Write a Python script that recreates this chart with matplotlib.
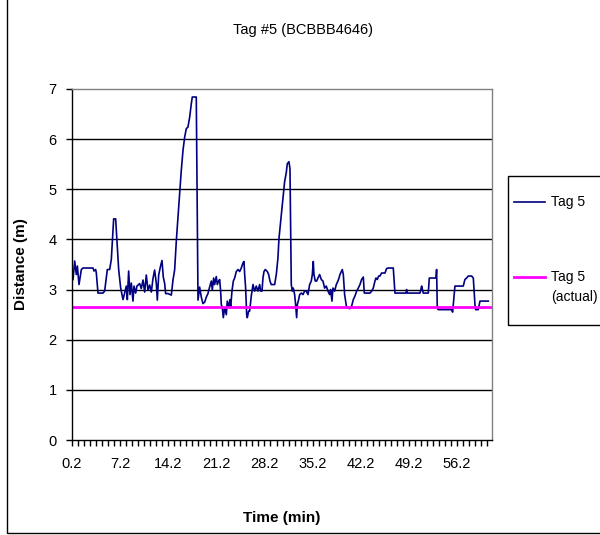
import numpy as np
import matplotlib
matplotlib.use('Agg')
import matplotlib.pyplot as plt
from matplotlib.lines import Line2D
from matplotlib.patches import Rectangle

plt.rcParams['font.family'] = ['Liberation Sans', 'DejaVu Sans']

# measured distance for tag 5 (minutes, metres)
time_min = [
    0.35, 0.59, 0.83, 0.98, 1.22, 1.56, 1.8, 3.25, 3.4, 3.64, 3.74, 3.98, 4.71, 4.95,
    5.34, 5.68, 5.92, 6.26, 6.55, 6.79, 6.99, 7.28, 7.62, 7.86, 8.1, 8.25, 8.44, 8.64,
    8.83, 9.07, 9.22, 9.46, 9.65,
    10.04, 10.28, 10.53, 10.77, 11.01, 11.25, 11.5, 11.74, 11.98, 12.22, 12.47, 12.61,
    12.81, 13.05, 13.29, 13.48, 13.68, 13.82, 14.16, 14.65, 14.89, 15.13, 15.38, 15.62,
    15.86, 16.1, 16.35, 16.59, 16.83, 17.07, 17.32, 17.56, 17.7, 18.28, 18.53, 18.77,
    19.01, 19.25, 19.5, 19.74, 19.98, 20.22,
    20.47, 20.61, 20.81, 20.95, 21.19, 21.34, 21.53, 21.68, 21.82, 21.92, 22.07, 22.21,
    22.41, 22.65, 22.79, 22.99, 23.18, 23.28, 23.47, 23.67, 23.86, 24.1, 24.35, 24.59,
    24.83, 25.07, 25.22, 25.32, 25.46, 25.61, 25.7, 25.9, 26.04, 26.28, 26.53, 26.77,
    27.01, 27.25, 27.5, 27.64, 27.84, 27.98, 28.13, 28.32, 28.61, 28.81, 29.0, 29.19,
    29.68, 29.92, 30.16, 30.31, 30.45,
    30.65, 30.89, 31.13, 31.38, 31.52, 31.76, 31.91, 32.1, 32.25, 32.39, 32.59, 32.73,
    32.88, 32.98, 33.17, 33.32, 33.56, 33.8, 34.04, 34.28, 34.53, 34.77, 35.01, 35.16,
    35.3, 35.4, 35.59, 35.79, 35.98, 36.22, 36.47, 36.71, 36.95, 37.19, 37.44, 37.68,
    37.82, 38.02, 38.16, 38.41, 38.65, 38.89, 39.04, 39.18, 39.38, 39.52, 39.67, 39.86,
    40.01, 40.15,
    40.64, 40.88, 41.12, 41.36, 41.61, 41.85, 42.09, 42.33, 42.58, 42.72, 43.55, 43.79,
    44.03, 44.27, 44.42, 44.61, 44.81, 45.0, 45.24, 45.73, 45.97, 46.21, 46.94, 47.18,
    48.78, 48.88, 48.98, 50.82, 50.96, 51.06, 51.3, 52.03, 52.18, 53.15, 53.24, 53.34,
    53.48, 55.42, 55.57, 55.76, 55.91, 57.12, 57.36, 57.61, 57.85, 58.33, 58.58, 58.82,
    58.92, 59.3, 59.55, 60.76,
]
tag5_m = [
    3.2, 3.57, 3.3, 3.47, 3.1, 3.4, 3.43, 3.43, 3.37, 3.4, 3.33, 2.93, 2.93, 2.97,
    3.4, 3.4, 3.6, 4.41, 4.41, 3.87, 3.4, 3.03, 2.8, 2.93, 3.07, 2.8, 3.37, 2.9,
    3.13, 2.77, 3.07, 2.93, 3.07,
    3.12, 3.02, 3.19, 2.95, 3.29, 2.99, 3.09, 2.95, 3.22, 3.39, 3.12, 2.79,
    3.29, 3.45, 3.58, 3.25, 3.12, 2.92, 2.92, 2.89, 3.19, 3.39, 3.98, 4.45,
    4.91, 5.38, 5.78, 6.04, 6.21, 6.24, 6.44, 6.71, 6.84, 6.84, 2.79, 3.05,
    2.85, 2.72, 2.75, 2.85, 2.92, 3.05,
    3.17, 3.0, 3.23, 3.1, 3.26, 3.1, 3.17, 3.2, 2.97, 2.7, 2.64, 2.44,
    2.64, 2.5, 2.77, 2.64, 2.8, 2.64, 2.97, 3.17, 3.23, 3.36, 3.4, 3.36,
    3.43, 3.53, 3.56, 3.3, 3.03, 2.5, 2.44, 2.57, 2.57, 2.87, 3.1, 2.97,
    3.07, 2.97, 3.1, 2.97, 2.97, 3.23, 3.36, 3.4, 3.36, 3.3, 3.17, 3.1,
    3.1, 3.3, 3.63, 4.02, 4.22,
    4.49, 4.82, 5.15, 5.34, 5.51, 5.55, 5.41, 3.1, 2.97, 3.03, 2.9, 2.7,
    2.44, 2.7, 2.8, 2.9, 2.93, 2.9, 2.97, 2.97, 2.9, 3.1, 3.17, 3.3,
    3.56, 3.3, 3.17, 3.17, 3.23, 3.3, 3.2, 3.17, 3.03, 3.07, 2.97, 2.9,
    3.0, 2.77, 3.03, 2.97, 3.1, 3.17, 3.23, 3.3, 3.36, 3.4, 3.3, 2.9,
    2.77, 2.64,
    2.62, 2.67, 2.8, 2.87, 2.97, 3.03, 3.1, 3.2, 3.25, 2.93, 2.93, 2.97,
    3.03, 3.17, 3.23, 3.2, 3.27, 3.27, 3.33, 3.33, 3.42, 3.43, 3.43, 2.93,
    2.93, 3.0, 2.93, 2.93, 3.0, 3.07, 2.93, 2.93, 3.23, 3.23, 3.4, 2.63,
    2.6, 2.6, 2.55, 2.83, 3.07, 3.07, 3.2, 3.23, 3.27, 3.27, 3.23, 2.7,
    2.6, 2.6, 2.77, 2.77,
]
actual_m = 2.65

x_tick_labels = ['0.2', '7.2', '14.2', '21.2', '28.2', '35.2', '42.2', '49.2', '56.2']
y_ticks = [0, 1, 2, 3, 4, 5, 6, 7]

W, H = 600, 535


def fx(px):
    return px / W


def fy(py):
    return 1 - py / H


fig = plt.figure(figsize=(W / 100, H / 100), dpi=100)

# chart area border
fig.add_artist(Rectangle((fx(7), fy(533)), fx(640) - fx(7), fy(-5) - fy(533),
                         transform=fig.transFigure, fill=False, edgecolor='black',
                         lw=1, clip_on=False))

ax = fig.add_axes([fx(72), fy(440), fx(492) - fx(72), fy(89) - fy(440)])

ax.plot(time_min, tag5_m, color='#000080', lw=1.2)
ax.axhline(actual_m, color='#FF00FF', lw=2.0)

ax.set_xlim(0.2, 61.3)
ax.set_ylim(0, 7)

ax.set_xticks([float(s) for s in x_tick_labels])
ax.set_xticklabels(x_tick_labels, fontsize=10.5)
ax.set_xticks(np.arange(0.2, 61.31, 0.875), minor=True)
ax.set_yticks(y_ticks)
ax.set_yticklabels([str(v) for v in y_ticks], fontsize=10.5)
ax.tick_params(axis='both', which='both', direction='out', length=4, width=1,
               color='black', labelcolor='black')
ax.tick_params(axis='x', pad=8)
ax.tick_params(axis='y', pad=7)

for v in y_ticks[1:-1]:
    ax.axhline(v, color='black', lw=1, zorder=0)

ax.spines['left'].set_color('black')
ax.spines['bottom'].set_color('black')
ax.spines['top'].set_color('#808080')
ax.spines['right'].set_color('#808080')
for s in ax.spines.values():
    s.set_linewidth(1)

fig.text(fx(303), fy(30), 'Tag #5 (BCBBB4646)', ha='center', va='center', fontsize=10.5)
fig.text(fx(282), fy(518), 'Time (min)', ha='center', va='center', fontsize=11,
         fontweight='bold')
fig.text(fx(21), fy(264), 'Distance (m)', ha='center', va='center', fontsize=11,
         fontweight='bold', rotation=90)

# legend box, partly running off the right edge
fig.add_artist(Rectangle((fx(508), fy(325)), fx(640) - fx(508), fy(176) - fy(325),
                         transform=fig.transFigure, fill=False, edgecolor='black',
                         lw=1, clip_on=False))
fig.add_artist(Line2D([fx(514), fx(545)], [fy(202), fy(202)], transform=fig.transFigure,
                      color='#000080', lw=1.2))
fig.text(fx(551), fy(202), 'Tag 5', ha='left', va='center', fontsize=10)
fig.add_artist(Line2D([fx(514), fx(545)], [fy(277), fy(277)], transform=fig.transFigure,
                      color='#FF00FF', lw=2.0))
fig.text(fx(551), fy(277), 'Tag 5', ha='left', va='center', fontsize=10)
fig.text(fx(551), fy(297), '(actual)', ha='left', va='center', fontsize=10)

fig.savefig('out.png', dpi=100)
